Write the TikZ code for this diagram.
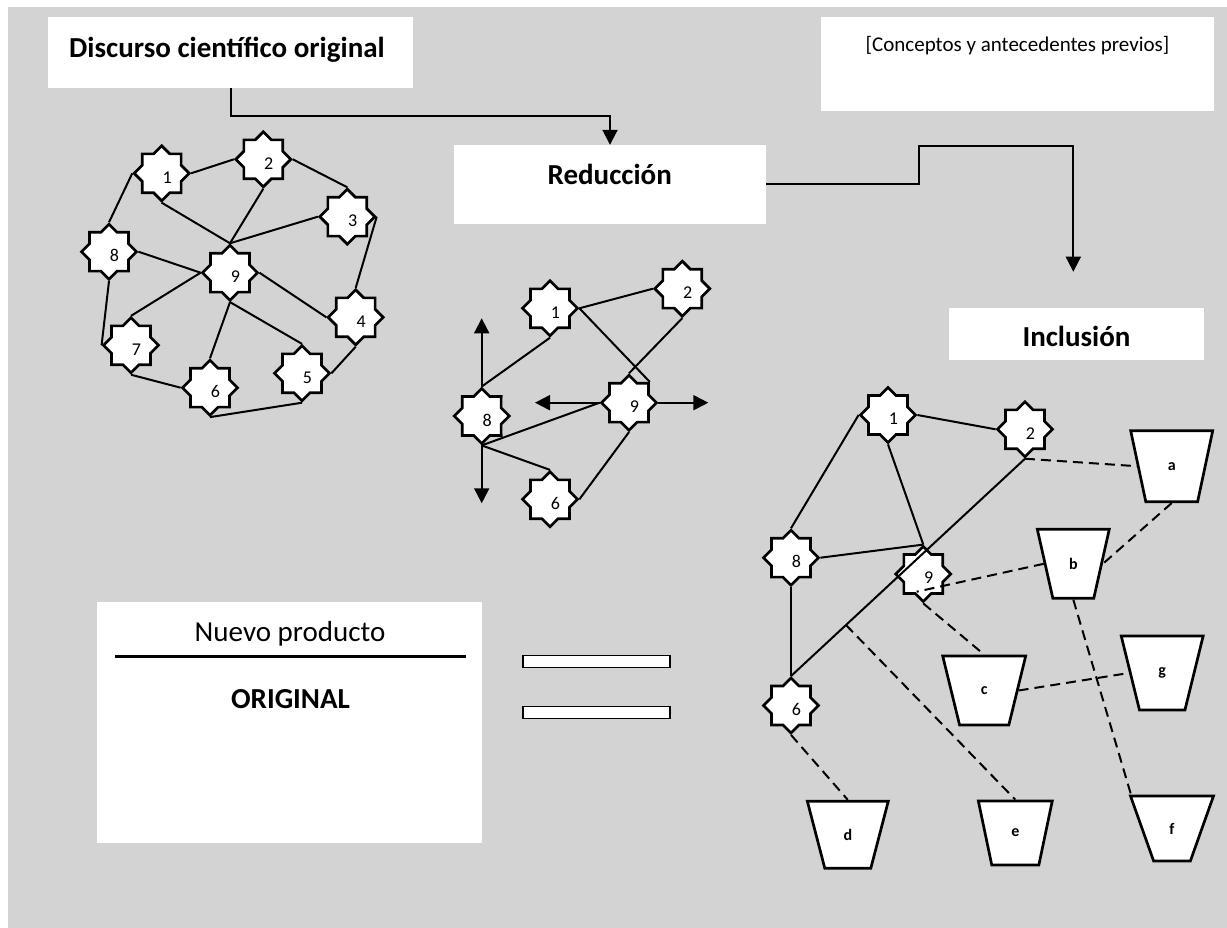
\documentclass[tikz,border=0pt]{standalone}
\usepackage{fontspec}
\setmainfont{Carlito}
\usetikzlibrary{shapes.geometric,arrows.meta}
\definecolor{bggray}{RGB}{211,211,211}
\tikzset{
  nstar/.style={star, star points=8, star point ratio=1.307, minimum size=55pt, inner sep=0pt, draw=black, fill=white, line width=2.7pt},
  slabel/.style={font=\fontsize{18}{18}\selectfont, inner sep=0pt},
  edge/.style={line width=2pt},
  dedge/.style={line width=2pt, dash pattern=on 10pt off 6pt},
  flow/.style={line width=2pt, -{Triangle[length=15pt,width=15pt]}},
  trap/.style={trapezium, shape border rotate=180, trapezium stretches=true, trapezium angle=74, draw=black, fill=white, line width=2.7pt, inner sep=0pt, font=\bfseries\fontsize{16}{16}\selectfont},
  wbox/.style={fill=white, inner sep=0pt, draw=none},
  bigb/.style={anchor=base, inner sep=0pt, font=\bfseries\fontsize{29}{29}\selectfont},
}
\newcommand\mkstar[3]{\node[nstar] (#1) at (#2) {};\node[slabel] (#1t) at ([xshift=5.5pt,yshift=-4pt]#1.center) {#3};}
\begin{document}
\begin{tikzpicture}[x=1pt,y=-1pt]
\useasboundingbox (0,0) rectangle (1227,928);
\fill[white] (0,0) rectangle (1227,928);
\fill[bggray] (8,7) rectangle (1227,928);

% boxes
\node[wbox, minimum width=365pt, minimum height=71pt] (title) at (230.5,52.5) {};
\node[bigb] (titlet) at (227,57.5) {Discurso científico original};
\node[wbox, minimum width=393pt, minimum height=94pt] (conc) at (1017.5,64) {};
\node[anchor=base, inner sep=0pt, font=\fontsize{21}{21}\selectfont] (conct) at (1017.5,51.7) {[Conceptos y antecedentes previos]};
\node[wbox, minimum width=312pt, minimum height=79pt] (red) at (610,184.5) {};
\node[bigb] (redt) at (609.7,185) {Reducción};
\node[wbox, minimum width=255pt, minimum height=52pt] (inc) at (1076.5,334) {};
\node[bigb] (inct) at (1076.5,346.7) {Inclusión};
\node[wbox, minimum width=385pt, minimum height=241pt] (prod) at (289.5,722.5) {};
\node[anchor=base, inner sep=0pt, font=\fontsize{29}{29}\selectfont] (prodt) at (290,641.7) {Nuevo producto};
\draw[line width=3.5pt] (114.9,656.7) -- (465.8,656.7);
\node[anchor=base, inner sep=0pt, font=\bfseries\fontsize{29}{29}\selectfont] (origt) at (290.5,708.3) {ORIGINAL};
\node[draw=black, fill=white, line width=1.3pt, minimum width=147pt, minimum height=12pt, inner sep=0pt] (eqa) at (596.5,661.7) {};
\node[draw=black, fill=white, line width=1.3pt, minimum width=147pt, minimum height=12pt, inner sep=0pt] (eqb) at (596.5,712.8) {};

% flow arrows
\draw[flow] (title.south) -- ++(0,28) -| (red.north);
\coordinate (incin) at (1073.3,271.7);
\draw[flow] (red.east) -| (919,146) -- (1073.3,146) -- (incin);

% network 1
\mkstar{n1}{161.7,173.3}{1}
\mkstar{n2}{263.3,159.3}{2}
\mkstar{n3}{347.3,216.7}{3}
\mkstar{n4}{355.7,317.3}{4}
\mkstar{n5}{302,373.3}{5}
\mkstar{n6}{210,387.7}{6}
\mkstar{n7}{131,345.3}{7}
\mkstar{n8}{109,251.7}{8}
\mkstar{n9}{230,272.7}{9}
\draw[edge] (n1.east) -- (n2.west);
\draw[edge] (n1.west) -- (n8.north);
\draw[edge] (n1.south) -- (n9.north);
\draw[edge] (n2.south) -- (n9.north);
\draw[edge] (n2.east) -- (n3.north);
\draw[edge] (n3.west) -- (n9.north);
\draw[edge] (n3.east) -- (n4.north);
\draw[edge] (n8.east) -- (n9.west);
\draw[edge] (n9.east) -- (n4.west);
\draw[edge] (n9.west) -- (n7.north);
\draw[edge] (n9.south) -- (n6.north);
\draw[edge] (n9.south) -- (n5.north);
\draw[edge] (n8.south) -- (n7.west);
\draw[edge] (n7.south) -- (n6.west);
\draw[edge] (n6.south) -- (n5.south);
\draw[edge] (n5.east) -- (n4.south);

% network 2
\mkstar{r1}{550,308.3}{1}
\mkstar{r2}{682.3,288.7}{2}
\mkstar{r9}{629,402.7}{9}
\mkstar{r8}{481.7,416}{8}
\mkstar{r6}{550,499.3}{6}
\draw[edge] (r1.east) -- (r2.west);
\draw[edge] (r1.east) -- (r9.north east);
\draw[edge] (r2.south) -- (r9.north);
\draw[edge] (r1.south) -- (r8.north);
\draw[edge] (r8.south) -- (r9.west);
\draw[edge] (r8.south) -- (r6.north);
\draw[edge] (r9.south) -- (r6.east);
\coordinate (r8up) at (481.7,318.3);
\coordinate (r8dn) at (481.7,503.3);
\coordinate (r9lt) at (535,402.7);
\coordinate (r9rt) at (708.3,402.7);
\draw[flow] (r8.north) -- (r8up);
\draw[flow] (r8.south) -- (r8dn);
\draw[flow] (r9.west) -- (r9lt);
\draw[flow] (r9.east) -- (r9rt);

% network 3
\mkstar{i1}{888,415}{1}
\mkstar{i2}{1025,429.3}{2}
\mkstar{i8}{791,557.7}{8}
\mkstar{i9}{923.3,574}{9}
\mkstar{i6}{791,705.5}{6}
\node[trap, minimum width=82pt, minimum height=71pt] (a) at (1171.7,466.2) {a};
\node[trap, minimum width=72pt, minimum height=69pt] (b) at (1073.3,563.8) {b};
\node[trap, minimum width=82pt, minimum height=74pt] (g) at (1162.2,673) {g};
\node[trap, minimum width=83pt, minimum height=65pt] (f) at (1172,828.5) {f};
\node[trap, minimum width=83pt, minimum height=69pt] (c) at (984.2,690.5) {c};
\node[trap, minimum width=81pt, minimum height=67pt] (d) at (847.8,834.7) {d};
\node[trap, minimum width=74pt, minimum height=64pt] (e) at (1015.3,833) {e};
\draw[edge] (i1.east) -- (i2.west);
\draw[edge] (i1.west) -- (i8.north);
\draw[edge] (i1.south) -- (i9.north);
\draw[edge] (i8.east) -- (i9.north);
\draw[edge] (i2.south) -- (i6.north);
\draw[edge] (i8.south) -- (i6.north);
\path (i2.south) -- (i6.north) coordinate[pos=0.765] (m);
\coordinate (i9x) at (916.7,591.7);
\draw[dedge] (i2.south) -- (a.west);
\draw[dedge] (a.south) -- (b.east);
\draw[dedge] (b.west) -- (i9x);
\draw[dedge] (i9.south) -- (c.north);
\draw[dedge] (c.east) -- (g.west);
\draw[dedge] (b.south) -- ([xshift=-41pt]f.north);
\draw[dedge] (i6.south) -- (d.north);
\draw[dedge] (m) -- (e.north);
\end{tikzpicture}
\end{document}
